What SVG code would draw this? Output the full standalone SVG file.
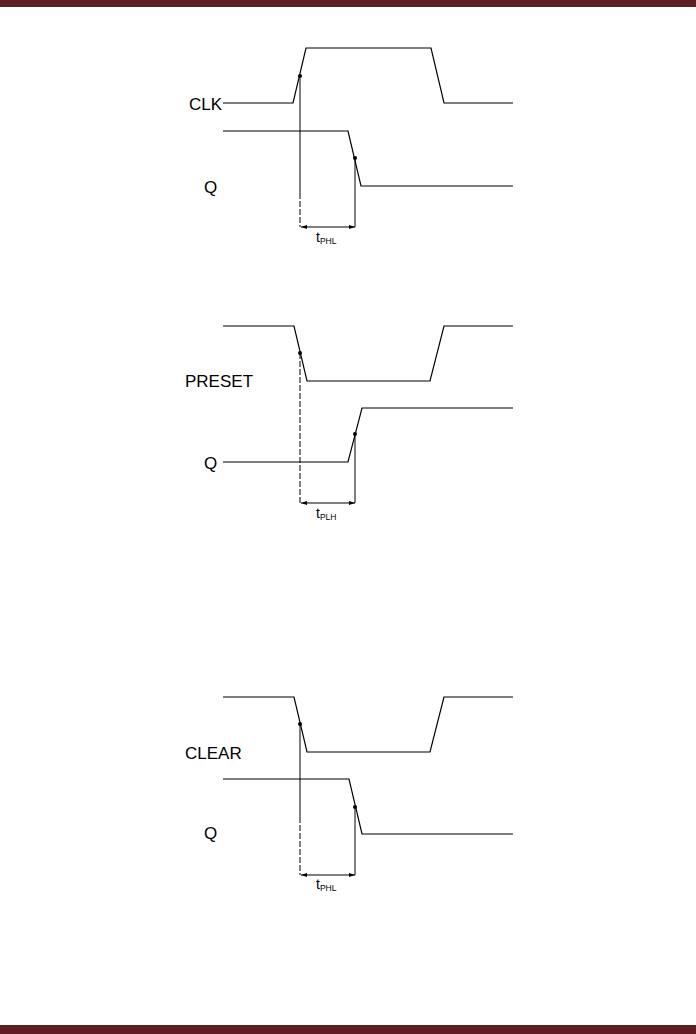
<svg xmlns="http://www.w3.org/2000/svg" width="696" height="1034" viewBox="0 0 696 1034">
<style>
.w{fill:none;stroke:#000;stroke-width:1.2}
.v{fill:none;stroke:#000;stroke-width:1}
.d{fill:none;stroke:#000;stroke-width:1;stroke-dasharray:6,2}
.dim{fill:none;stroke:#000;stroke-width:1;marker-start:url(#a);marker-end:url(#a)}
.lbl{font-family:"Liberation Sans",Arial,sans-serif;font-size:17px;fill:#000}
.t{font-family:"Liberation Sans",Arial,sans-serif;font-size:14px;fill:#000}
.s{font-size:8.5px;fill:#000}
</style>
<defs>
<marker id="a" viewBox="0 0 6 4" refX="6" refY="2" markerWidth="6" markerHeight="4" markerUnits="userSpaceOnUse" orient="auto-start-reverse">
<path d="M0,0 L6,2 L0,4 Z" fill="#000"/>
</marker>
</defs>
<rect x="0" y="0" width="696" height="7" fill="#5e1f22"/>
<rect x="0" y="1025" width="696" height="9" fill="#5e1f22"/>

<g id="clk-diagram">
<text class="lbl" x="222" y="110" text-anchor="end">CLK</text>
<text class="lbl" x="204" y="193">Q</text>
<polyline class="w" points="223,103 293,103 306,48 431,48 444,103 513,103"/>
<polyline class="w" points="223,131 348,131 361,186 513,186"/>
<circle cx="300" cy="76" r="2"/>
<circle cx="355" cy="158" r="2"/>
</g>

<g id="preset-diagram">
<text class="lbl" x="185" y="387">PRESET</text>
<text class="lbl" x="204" y="469">Q</text>
<polyline class="w" points="223,326 294,326 307,381 430,381 444,326 513,326"/>
<polyline class="w" points="223,462 348,462 362,408 513,408"/>
<circle cx="300" cy="353" r="2"/>
<circle cx="355" cy="434" r="2"/>
</g>

<g id="clear-diagram">
<text class="lbl" x="185" y="759">CLEAR</text>
<text class="lbl" x="204" y="839">Q</text>
<polyline class="w" points="223,697 294,697 307,752 430,752 444,697 513,697"/>
<polyline class="w" points="223,779 349,779 362,834 513,834"/>
<circle cx="300" cy="724" r="2"/>
<circle cx="355" cy="807" r="2"/>
</g>

<g id="connectors">
<line class="v" x1="300" y1="76" x2="300" y2="193"/>
<line class="d" x1="300" y1="193" x2="300" y2="227"/>
<line class="v" x1="355" y1="158" x2="355" y2="227"/>
<line class="dim" x1="301" y1="227" x2="355" y2="227"/>

<line class="d" x1="300" y1="353" x2="300" y2="503"/>
<line class="v" x1="355" y1="434" x2="355" y2="503"/>
<line class="dim" x1="301" y1="503" x2="355" y2="503"/>

<line class="v" x1="300" y1="724" x2="300" y2="817"/>
<line class="d" x1="300" y1="817" x2="300" y2="875"/>
<line class="v" x1="355" y1="807" x2="355" y2="875"/>
<line class="dim" x1="301" y1="875" x2="355" y2="875"/>
</g>

<g id="labels">
<text class="t" x="316" y="242">t<tspan class="s" dy="2">PHL</tspan></text>
<text class="t" x="316" y="518">t<tspan class="s" dy="2">PLH</tspan></text>
<text class="t" x="316" y="889">t<tspan class="s" dy="2">PHL</tspan></text>
</g>
</svg>
